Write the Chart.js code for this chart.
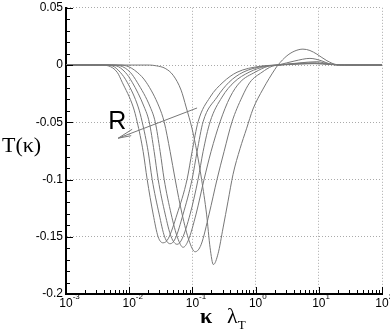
<!DOCTYPE html>
<html>
<head>
<meta charset="utf-8">
<script src="https://cdn.jsdelivr.net/npm/chart.js@4.4.1/dist/chart.umd.min.js"></script>
<style>
  html, body { margin: 0; padding: 0; background: #fff; }
</style>
</head>
<body>
<canvas id="mycanvas" width="390" height="334"></canvas>
<script>
// curves: log10(kappa*lambda_T) and T(kappa), one pair per R
const logK1 = [-3, -2.458, -2.332, -2.190, -2.111, -1.937, -1.874, -1.779, -1.716, -1.621, -1.542, -1.463, -1.384, -1.242, -1.084, -1.005, -0.910, -0.720, -0.515, -0.294, 0.069, 0.354, 0.701, 0.938, 1.175, 1.412, 2];
const t1 = [0, 0, -0.0007, -0.0063, -0.0150, -0.0366, -0.0496, -0.0756, -0.0998, -0.1302, -0.1501, -0.1553, -0.1518, -0.1302, -0.0998, -0.0756, -0.0496, -0.0280, -0.0150, -0.0063, -0.0011, 0, 0.0008, 0.0012, 0.0005, 0, 0];

const logK2 = [-3, -2.40, -2.269, -2.142, -2.032, -1.858, -1.795, -1.700, -1.637, -1.526, -1.439, -1.352, -1.273, -1.147, -1.005, -0.926, -0.831, -0.610, -0.420, -0.199, 0.117, 0.354, 0.701, 0.938, 1.175, 1.412, 2];
const t2 = [0, 0, -0.0007, -0.0063, -0.0150, -0.0366, -0.0496, -0.0756, -0.0998, -0.1302, -0.1501, -0.1561, -0.1518, -0.1302, -0.0998, -0.0756, -0.0496, -0.0280, -0.0150, -0.0063, -0.0011, 0, 0.0012, 0.0015, 0.0006, 0, 0];

const logK3 = [-3, -2.35, -2.205, -2.063, -1.953, -1.763, -1.684, -1.605, -1.542, -1.431, -1.336, -1.242, -1.163, -1.036, -0.910, -0.831, -0.720, -0.531, -0.341, -0.104, 0.164, 0.354, 0.701, 0.938, 1.175, 1.412, 2];
const t3 = [0, 0, -0.0007, -0.0063, -0.0150, -0.0366, -0.0496, -0.0756, -0.0998, -0.1302, -0.1501, -0.1566, -0.1518, -0.1302, -0.0998, -0.0756, -0.0496, -0.0280, -0.0150, -0.0063, -0.0011, 0, 0.0015, 0.0019, 0.0007, 0, 0];

const logK4 = [-3, -2.28, -2.142, -1.984, -1.874, -1.668, -1.589, -1.510, -1.447, -1.336, -1.234, -1.147, -1.068, -0.942, -0.815, -0.705, -0.562, -0.404, -0.246, -0.009, 0.196, 0.354, 0.701, 0.970, 1.175, 1.412, 2];
const t4 = [0, 0, -0.0007, -0.0063, -0.0150, -0.0366, -0.0496, -0.0756, -0.0998, -0.1302, -0.1510, -0.1592, -0.1535, -0.1302, -0.0998, -0.0756, -0.0496, -0.0280, -0.0150, -0.0063, -0.0011, 0, 0.0019, 0.0029, 0.0010, 0, 0];

const logK5 = [-3, -2.18, -2.047, -1.874, -1.731, -1.526, -1.447, -1.352, -1.273, -1.163, -1.052, -0.957, -0.863, -0.736, -0.610, -0.499, -0.373, -0.215, -0.088, 0.101, 0.259, 0.354, 0.622, 0.860, 1.049, 1.175, 1.333, 2];
const t5 = [0, 0, -0.0007, -0.0063, -0.0150, -0.0366, -0.0496, -0.0756, -0.0998, -0.1302, -0.1535, -0.1631, -0.1570, -0.1302, -0.0998, -0.0756, -0.0496, -0.0280, -0.0150, -0.0063, -0.0011, 0, 0.0036, 0.0058, 0.0036, 0.0009, 0, 0];

const logK6 = [-3, -1.68, -1.57, -1.431, -1.305, -1.179, -1.100, -1.005, -0.930, -0.855, -0.776, -0.720, -0.668, -0.594, -0.515, -0.436, -0.357, -0.246, -0.144, -0.041, 0.117, 0.306, 0.354, 0.496, 0.622, 0.749, 0.860, 0.970, 1.128, 1.286, 1.412, 2];
const t6 = [0, 0, -0.0007, -0.0029, -0.0089, -0.0219, -0.0366, -0.0557, -0.0756, -0.0998, -0.1302, -0.1596, -0.1743, -0.1648, -0.1423, -0.1189, -0.0955, -0.0730, -0.0557, -0.0384, -0.0210, -0.0037, 0, 0.0081, 0.0123, 0.0139, 0.0127, 0.0095, 0.0038, 0.0003, 0, 0];

// the "R" arrow (shaft and head) in data units
const arrowK = [0.1186, 0.0067];
const arrowT = [-0.0375, -0.0639];
const headK = [0.01114, 0.0067, 0.01076];
const headT = [-0.0561, -0.0639, -0.0617];
const rLabel = { k: 0.0065, t: -0.0557, text: 'R' };

// axes
const xPowers = [-3, -2, -1, 0, 1, 2];
const xExpLabels = ['-3', '-2', '-1', '0', '1', '2'];
const yTicks = [-0.2, -0.15, -0.1, -0.05, 0, 0.05];
const yTickLabels = ['-0.2', '-0.15', '-0.1', '-0.05', '0', '0.05'];

const curves = [[logK1, t1], [logK2, t2], [logK3, t3], [logK4, t4], [logK5, t5], [logK6, t6]];

function pts(ks, ts) {
  return ks.map((k, i) => ({ x: k, y: ts[i] }));
}

var datasets = curves.map(([lk, t]) => ({
  data: pts(lk.map(v => Math.pow(10, v)), t),
  showLine: true,
  borderColor: '#777',
  borderWidth: 1,
  pointRadius: 0,
  cubicInterpolationMode: 'monotone'
}));
datasets.push({ data: pts(arrowK, arrowT), showLine: true, borderColor: '#777', borderWidth: 1, pointRadius: 0 });
datasets.push({ data: pts(headK, headT), showLine: true, borderColor: '#777', borderWidth: 1, pointRadius: 0 });

// inward tick marks, 10^n labels, axis titles and the R label
const extras = {
  id: 'extras',
  afterDraw(chart) {
    const { ctx, chartArea: a, scales: { x, y } } = chart;
    ctx.save();
    ctx.strokeStyle = '#000';
    ctx.lineWidth = 1;
    ctx.beginPath();
    for (let i = -20; i <= 5; i++) {
      const py = Math.round(y.getPixelForValue(i / 100)) + 0.5;
      const len = i % 5 === 0 ? 7 : 4;
      ctx.moveTo(a.left, py);
      ctx.lineTo(a.left + len, py);
    }
    xPowers.forEach((p, j) => {
      for (let m = 1; m <= 9; m++) {
        if (j === xPowers.length - 1 && m > 1) break;
        const px = Math.round(x.getPixelForValue(m * Math.pow(10, p))) + 0.5;
        const len = m === 1 ? 7 : 4;
        ctx.moveTo(px, a.bottom);
        ctx.lineTo(px, a.bottom - len);
      }
    });
    ctx.stroke();

    ctx.fillStyle = '#000';
    ctx.textBaseline = 'alphabetic';
    xPowers.forEach((p, i) => {
      const px = x.getPixelForValue(Math.pow(10, p));
      ctx.font = '12px "Liberation Sans"';
      ctx.textAlign = 'center';
      ctx.fillText('10', px, a.bottom + 13);
      const w = ctx.measureText('10').width;
      ctx.font = '8px "Liberation Sans"';
      ctx.textAlign = 'left';
      ctx.fillText(xExpLabels[i], px + w / 2, a.bottom + 5);
    });

    // y title, horizontal
    ctx.font = '22px "Liberation Serif"';
    ctx.textAlign = 'left';
    ctx.fillText('T(κ)', 2, 152);

    // x title: kappa lambda_T
    const cx = (a.left + a.right) / 2;
    const by = a.bottom + 29;
    ctx.font = 'bold 22px "Liberation Serif"';
    ctx.fillText('κ', cx - 24, by);
    ctx.font = '22px "Liberation Serif"';
    ctx.fillText('λ', cx + 3, by);
    const lw = ctx.measureText('λ').width;
    ctx.font = '13px "Liberation Serif"';
    ctx.fillText('T', cx + 3 + lw, by + 6);

    ctx.font = '25px "Liberation Sans"';
    ctx.textAlign = 'center';
    ctx.fillText(rLabel.text, x.getPixelForValue(rLabel.k), y.getPixelForValue(rLabel.t));
    ctx.restore();
  }
};

var ctx = document.getElementById('mycanvas').getContext('2d');
var chart = new Chart(ctx, {
  type: 'scatter',
  data: { datasets: datasets },
  plugins: [extras],
  options: {
    responsive: false,
    animation: false,
    devicePixelRatio: 1,
    layout: { padding: { top: 5, right: 8, left: 0, bottom: 0 } },
    plugins: { legend: { display: false }, tooltip: { enabled: false } },
    scales: {
      x: {
        type: 'logarithmic',
        min: 0.001,
        max: 100,
        afterBuildTicks: s => { s.ticks = xPowers.map(p => ({ value: Math.pow(10, p) })); },
        afterFit: s => { s.height = 40; },
        ticks: { display: false },
        grid: { color: '#aaa', lineWidth: 1, drawTicks: false },
        border: { display: true, color: '#000', width: 2, dash: [1, 2] }
      },
      y: {
        min: -0.2,
        max: 0.05,
        afterBuildTicks: s => { s.ticks = yTicks.map(v => ({ value: v })); },
        afterFit: s => { s.width = 66; },
        ticks: {
          color: '#000',
          padding: 3,
          font: { family: 'Liberation Sans', size: 12, lineHeight: 0.8 },
          callback: v => yTickLabels[yTicks.indexOf(v)]
        },
        grid: { color: '#aaa', lineWidth: 1, drawTicks: false },
        border: { display: true, color: '#000', width: 2, dash: [1, 2] }
      }
    }
  }
});
</script>
</body>
</html>
